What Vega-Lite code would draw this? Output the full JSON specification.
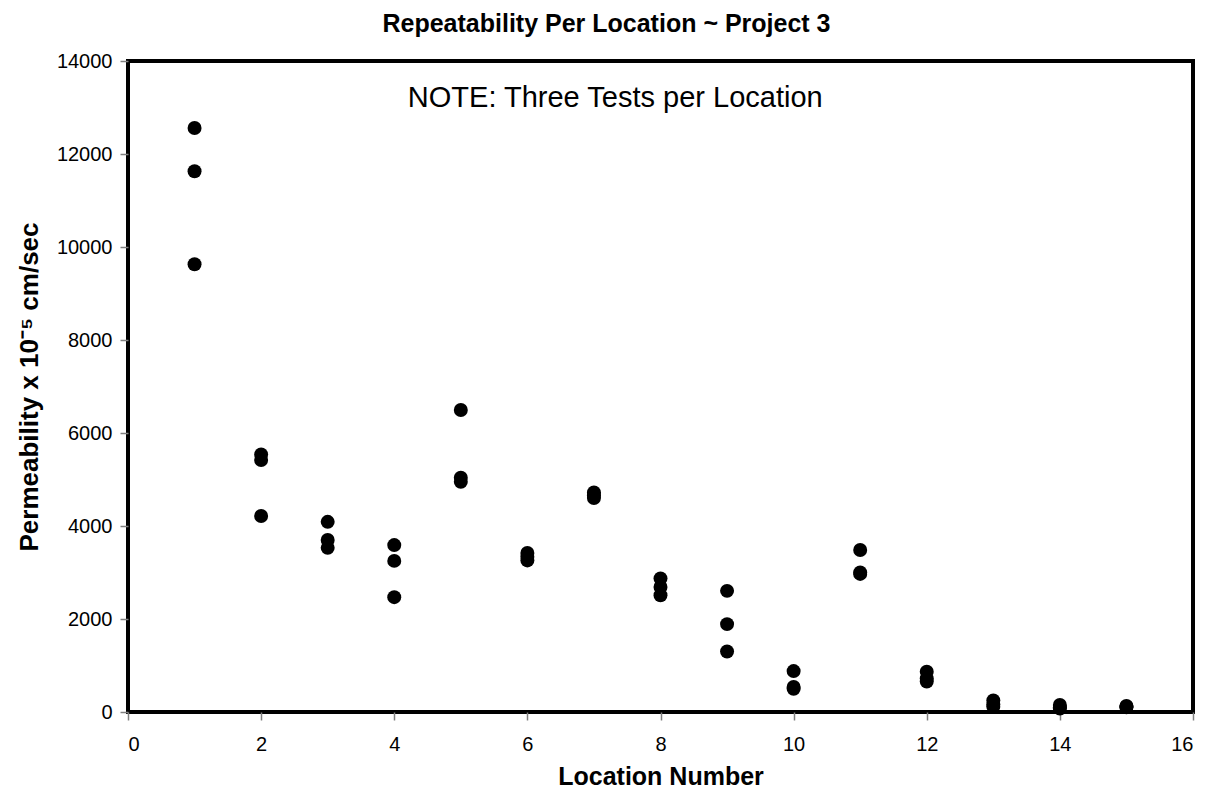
{
  "$schema": "https://vega.github.io/schema/vega-lite/v6.json",
  "autosize": {"type": "none"},
  "width": 1065,
  "height": 651,
  "padding": {"left": 128, "top": 61, "right": 18, "bottom": 85},
  "background": "white",
  "config": {
    "font": "Liberation Sans",
    "view": {"stroke": "black", "strokeWidth": 4},
    "axis": {"domain": false, "grid": false, "tickColor": "#808080", "tickSize": 8, "tickWidth": 1.5, "labelColor": "black", "labelFontSize": 20, "labelFont": "Liberation Sans", "titleFont": "Liberation Sans", "titleFontWeight": "bold", "titleFontSize": 25, "titleColor": "black", "format": "d"}
  },
  "title": {"text": "Repeatability Per Location ~ Project 3", "fontSize": 25, "fontWeight": "bold", "font": "Liberation Sans", "color": "black", "anchor": "middle", "dx": -54, "offset": 14},
  "layer": [
    {
      "data": {"values": [
        {"loc": 1, "perm": 12560}, {"loc": 1, "perm": 11630}, {"loc": 1, "perm": 9630},
        {"loc": 2, "perm": 5540}, {"loc": 2, "perm": 5420}, {"loc": 2, "perm": 4215},
        {"loc": 3, "perm": 4090}, {"loc": 3, "perm": 3700}, {"loc": 3, "perm": 3530},
        {"loc": 4, "perm": 3590}, {"loc": 4, "perm": 3250}, {"loc": 4, "perm": 2470},
        {"loc": 5, "perm": 6495}, {"loc": 5, "perm": 5040}, {"loc": 5, "perm": 4950},
        {"loc": 6, "perm": 3420}, {"loc": 6, "perm": 3340}, {"loc": 6, "perm": 3260},
        {"loc": 7, "perm": 4720}, {"loc": 7, "perm": 4660}, {"loc": 7, "perm": 4600},
        {"loc": 8, "perm": 2870}, {"loc": 8, "perm": 2690}, {"loc": 8, "perm": 2510},
        {"loc": 9, "perm": 2605}, {"loc": 9, "perm": 1890}, {"loc": 9, "perm": 1300},
        {"loc": 10, "perm": 880}, {"loc": 10, "perm": 540}, {"loc": 10, "perm": 500},
        {"loc": 11, "perm": 3485}, {"loc": 11, "perm": 3000}, {"loc": 11, "perm": 2970},
        {"loc": 12, "perm": 865}, {"loc": 12, "perm": 720}, {"loc": 12, "perm": 655},
        {"loc": 13, "perm": 250}, {"loc": 13, "perm": 160}, {"loc": 13, "perm": 115},
        {"loc": 14, "perm": 150}, {"loc": 14, "perm": 100}, {"loc": 14, "perm": 75},
        {"loc": 15, "perm": 130}, {"loc": 15, "perm": 115}, {"loc": 15, "perm": 100}
      ]},
      "mark": {"type": "point", "filled": true, "shape": "circle", "size": 195, "color": "black", "opacity": 1},
      "encoding": {
        "x": {"field": "loc", "type": "quantitative", "scale": {"domain": [0, 16], "nice": false, "zero": true}, "axis": {"values": [0,2,4,6,8,10,12,14,16], "title": "Location Number", "titlePadding": 10, "labelPadding": 14}},
        "y": {"field": "perm", "type": "quantitative", "scale": {"domain": [0, 14000], "nice": false}, "axis": {"values": [0,2000,4000,6000,8000,10000,12000,14000], "title": "Permeability x 10⁻⁵  cm/sec", "titleFontSize": 26, "titlePadding": 14, "labelPadding": 8}}
      }
    },
    {
      "data": {"values": [{"loc": 7.32, "perm": 13200, "label": "NOTE: Three Tests per Location"}]},
      "mark": {"type": "text", "fontSize": 29, "font": "Liberation Sans", "color": "black", "align": "center", "baseline": "middle"},
      "encoding": {
        "x": {"field": "loc", "type": "quantitative"},
        "y": {"field": "perm", "type": "quantitative"},
        "text": {"field": "label"}
      }
    }
  ]
}
